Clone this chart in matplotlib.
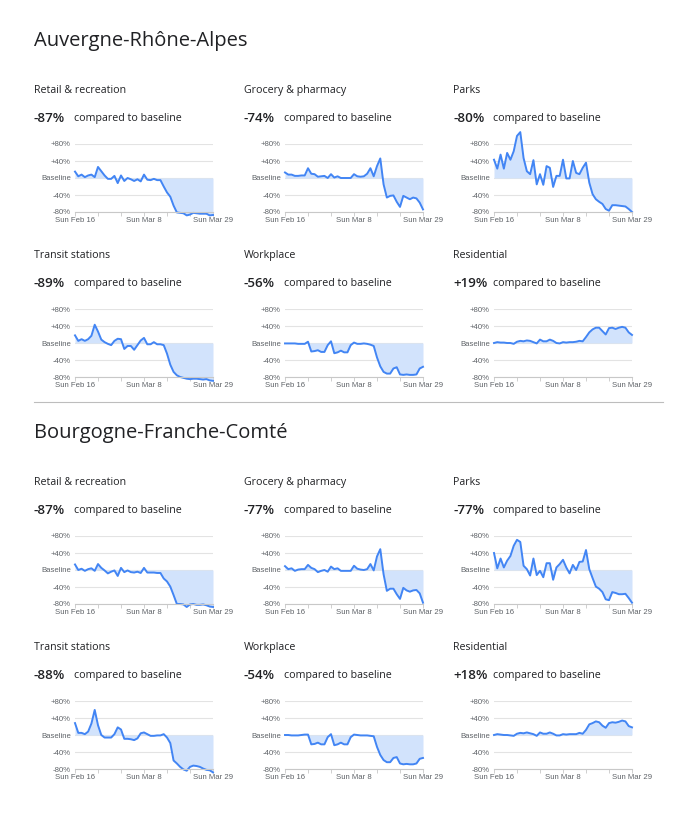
import numpy as np
import matplotlib.pyplot as plt
import pandas as pd

dias = pd.date_range('2020-02-16', '2020-03-29', freq='D')
categorias = ['Retail & recreation', 'Grocery & pharmacy', 'Parks',
              'Transit stations', 'Workplace', 'Residential']
regioes = ['Auvergne-Rhône-Alpes', 'Bourgogne-Franche-Comté']

# Auvergne-Rhône-Alpes
ara_retail = [15, 4, 8, 2, 6, 8, 2, 26, 16, 6, -2, -2, 5, -12, 6, -7, 0, -3, -7, -3, -8, 8,
              -4, -5, -2, -5, -5, -20, -34, -44, -65, -81, -82, -83, -88, -86, -82, -83, -84,
              -84, -84, -88, -87]
ara_grocery = [13, 8, 8, 5, 5, 6, 6, 23, 10, 9, 3, 4, 5, 0, 9, 1, 4, 0, 0, 0, 0, 9, 4, 3, 4,
               10, 23, 4, 28, 46, -15, -46, -42, -41, -56, -68, -42, -46, -50, -46, -48, -58, -74]
ara_parks = [43, 22, 55, 22, 59, 43, 63, 99, 108, 47, 16, 9, 42, -15, 9, -16, 28, 24, -21, 5,
             5, 43, -1, -1, 40, 12, 9, 24, 36, -11, -38, -50, -56, -61, -73, -77, -64, -64, -65,
             -66, -67, -73, -80]
ara_transit = [18, 5, 9, 5, 9, 17, 43, 27, 8, 2, -2, -5, 5, 10, 9, -14, -7, -7, -16, -5, 6,
               12, -3, -3, 2, -3, -3, -5, -25, -51, -68, -76, -80, -82, -84, -85, -84, -84, -85,
               -86, -85, -88, -89]
ara_work = [-1, -1, -1, -1, -2, -2, -2, 3, -20, -19, -17, -21, -21, -5, 4, -24, -22, -18, -22,
            -22, -5, 1, -2, -2, -1, -2, -4, -7, -34, -55, -68, -72, -72, -60, -57, -74, -75, -74,
            -75, -75, -74, -60, -56]
ara_resid = [0, 2, 1, 1, 0, 0, -2, 3, 5, 4, 6, 5, 2, -1, 8, 4, 4, 8, 5, 0, -1, 2, 1, 2, 2, 3,
             5, 4, 14, 25, 32, 36, 36, 28, 20, 35, 36, 33, 36, 38, 36, 25, 19]

# Bourgogne-Franche-Comté
bfc_retail = [13, 0, 3, -2, 2, 4, -2, 14, 5, -1, -8, -4, -1, -14, 5, -5, -1, -5, -6, -4, -7, 5,
              -6, -6, -6, -7, -7, -20, -27, -39, -59, -80, -80, -81, -87, -81, -80, -82, -82,
              -81, -83, -86, -87]
bfc_grocery = [9, 2, 4, -2, 1, 2, 2, 12, 5, 2, -5, -2, 0, -4, 8, 2, 4, -2, -2, -2, -2, 10, 3,
               1, 0, 2, 14, -1, 32, 49, -10, -49, -44, -44, -57, -68, -42, -48, -51, -48, -47,
               -55, -77]
bfc_parks = [40, 4, 27, 6, 22, 33, 57, 71, 66, 10, 2, -13, 27, -12, -2, -17, 16, 16, -23, 6,
             14, 24, 6, -8, 12, 0, 19, 20, 47, 2, -19, -39, -44, -52, -69, -71, -52, -54, -57,
             -57, -56, -66, -77]
bfc_transit = [28, 5, 5, 2, 8, 27, 59, 23, 0, -6, -6, -6, 2, 18, 13, -9, -9, -10, -12, -8, 4, 6,
               2, -2, -2, -1, -1, 2, -6, -19, -60, -67, -75, -81, -84, -75, -72, -73, -75, -79,
               -82, -83, -88]
bfc_work = [0, 0, -1, -1, -1, 0, 1, 1, -22, -21, -18, -22, -22, -5, 2, -24, -22, -18, -22, -22,
            -5, 1, 0, -1, -1, -1, -2, -3, -28, -47, -59, -64, -64, -54, -52, -67, -69, -68, -69,
            -69, -67, -56, -54]
bfc_resid = [0, 2, 1, 0, 0, -1, -2, 3, 5, 4, 6, 4, 2, -2, 6, 3, 3, 6, 3, -1, -1, 2, 1, 2, 2, 2,
             5, 3, 12, 25, 28, 32, 30, 22, 17, 28, 30, 29, 31, 34, 32, 21, 18]

dados = [[ara_retail, ara_grocery, ara_parks, ara_transit, ara_work, ara_resid],
         [bfc_retail, bfc_grocery, bfc_parks, bfc_transit, bfc_work, bfc_resid]]

azul = '#4285f4'
azul_claro = '#d2e3fc'
cinza = '#5f6368'
fonte = ['Open Sans', 'DejaVu Sans']
fonte_eixo = ['Liberation Sans', 'DejaVu Sans']

fig = plt.figure(figsize=(6.92, 8.21), dpi=100)
W, H = 692.0, 821.0

col_x = [75, 285, 494]
col_txt = [34, 244, 453]
topo_regiao = [0, 392]


def painel(x0, ytopo, valores):
    # ytopo = pixel da linha +80%
    ax = fig.add_axes([x0 / W, 1 - (ytopo + 68) / H, 138 / W, 68 / H])
    x = np.arange(len(valores))
    v = np.array(valores, dtype=float)
    ax.fill_between(x, 0, v, color=azul_claro, linewidth=0, clip_on=False)
    ax.plot(x, v, color=azul, linewidth=1.4, clip_on=False, solid_joinstyle='round')
    ax.set_xlim(0, len(valores) - 1)
    ax.set_ylim(-80, 80)
    ax.set_yticks([-80, -40, 0, 40, 80])
    ax.set_yticklabels(['-80%', '-40%', 'Baseline', '+40%', '+80%'])
    ax.grid(axis='y', color='#e3e3e3', linewidth=0.8)
    ax.set_axisbelow(True)
    semanas = np.arange(0, len(valores), 7)
    ax.set_xticks(semanas)
    rot = []
    for s in semanas:
        if s in (0, 21, 42):
            rot.append(dias[s].strftime('Sun %b ') + str(dias[s].day))
        else:
            rot.append('')
    ax.set_xticklabels(rot)
    for s in ['top', 'right', 'left']:
        ax.spines[s].set_visible(False)
    ax.spines['bottom'].set_color('#c8c8c8')
    ax.spines['bottom'].set_linewidth(0.8)
    ax.tick_params(axis='y', length=0, pad=3, labelsize=5.6, labelcolor=cinza)
    ax.tick_params(axis='x', length=3, width=0.6, color='#c8c8c8', pad=0.5,
                   labelsize=5.6, labelcolor=cinza)
    for t in ax.get_xticklabels() + ax.get_yticklabels():
        t.set_family(fonte_eixo)
    ax.set_facecolor('none')
    return ax


for r, nome in enumerate(regioes):
    dy = topo_regiao[r]
    fig.text(34 / W, 1 - (41 + dy) / H, nome, fontsize=14.5, family=fonte,
             color='#202124', va='center', ha='left')
    for i, cat in enumerate(categorias):
        lin, col = divmod(i, 3)
        base = dy + lin * 165
        valores = dados[r][i]
        fig.text(col_txt[col] / W, 1 - (90.5 + base) / H, cat, fontsize=7.7, family=fonte,
                 color='#202124', va='center', ha='left')
        final = valores[-1]
        txt_pct = ('+' if final > 0 else '') + str(final) + '%'
        fig.text(col_txt[col] / W, 1 - (118.5 + base) / H, txt_pct, fontsize=9.6,
                 family=fonte, weight='semibold', color='#202124', va='center', ha='left')
        fig.text((col_txt[col] + 40) / W, 1 - (118.5 + base) / H, 'compared to baseline',
                 fontsize=7.7, family=fonte, color='#202124', va='center', ha='left')
        painel(col_x[col], 144 + base, valores)

# linha separando as regiões
fig.add_artist(plt.Line2D([34 / W, 663 / W], [1 - 402 / H, 1 - 402 / H],
                          color='#bdbdbd', linewidth=0.8))

fig.savefig('out.png', dpi=100, facecolor='white')
